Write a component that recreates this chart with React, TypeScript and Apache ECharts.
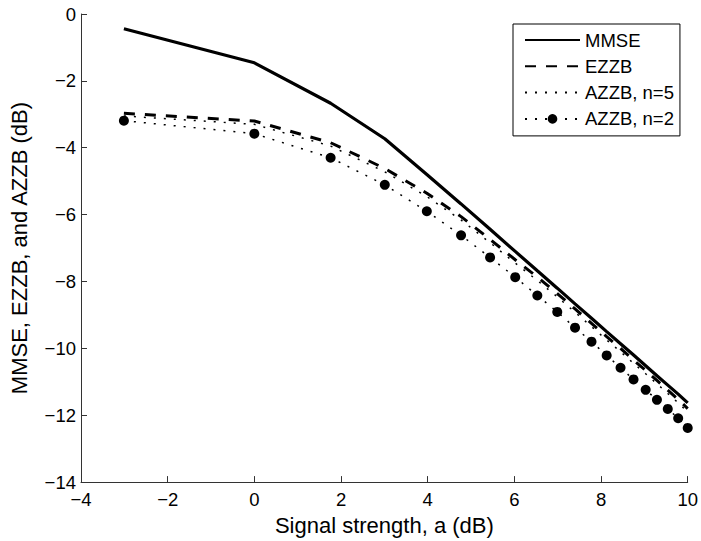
import React, { useEffect, useRef } from "react";
import * as echarts from "echarts";

const xValues = [-3.01, 0, 1.76, 3.01, 3.98, 4.77, 5.44, 6.02, 6.53, 6.99, 7.4, 7.78, 8.13, 8.45, 8.75, 9.03, 9.29, 9.54, 9.78, 10];
const mmse = [-0.44, -1.46, -2.67, -3.73, -4.8, -5.68, -6.44, -7.1, -7.68, -8.2, -8.67, -9.1, -9.5, -9.86, -10.2, -10.52, -10.82, -11.1, -11.37, -11.63];
const ezzb = [-2.97, -3.2, -3.85, -4.62, -5.36, -6.06, -6.74, -7.35, -7.87, -8.36, -8.82, -9.25, -9.65, -10.0, -10.35, -10.66, -10.96, -11.25, -11.53, -11.8];
const azzb5 = [-3.05, -3.3, -3.95, -4.72, -5.46, -6.16, -6.84, -7.45, -7.97, -8.46, -8.92, -9.35, -9.75, -10.1, -10.45, -10.76, -11.06, -11.35, -11.63, -11.9];
const azzb2 = [-3.19, -3.58, -4.3, -5.11, -5.9, -6.62, -7.28, -7.87, -8.42, -8.91, -9.38, -9.8, -10.21, -10.58, -10.93, -11.24, -11.54, -11.81, -12.09, -12.38];
const seriesNames = ["MMSE", "EZZB", "AZZB, n=5", "AZZB, n=2"];
const xAxisTitle = "Signal strength, a (dB)";
const yAxisTitle = "MMSE, EZZB, and AZZB (dB)";

const FONT = "Liberation Sans, Arial, Helvetica, sans-serif";
const pair = (ys: number[]) => xValues.map((x, i) => [x, ys[i]]);
const fmt = (v: number) => String(v).replace("-", "\u2212");

export default function App() {
  const ref = useRef<HTMLDivElement>(null);
  useEffect(() => {
    if (!ref.current) return;
    const chart = echarts.init(ref.current, null, { renderer: "svg" });
    const axisCommon = {
      axisLine: { show: true, onZero: false, lineStyle: { color: "#333", width: 1 } },
      axisTick: { show: true, inside: true, length: 6, lineStyle: { color: "#333" } },
      splitLine: { show: false },
      nameTextStyle: { fontFamily: FONT, fontSize: 22, color: "#000" },
    };
    chart.setOption({
      animation: false,
      backgroundColor: "#fff",
      grid: { left: 81, right: 12, top: 14, bottom: 53 },
      legend: {
        data: seriesNames.map((n, i) =>
          i < 3 ? { name: n, itemStyle: { opacity: 0 } } : { name: n }
        ),
        orient: "vertical",
        left: 513,
        top: 24,
        itemWidth: 55,
        itemHeight: 12,
        itemGap: 6.3,
        padding: [6, 6, 7, 11],
        borderColor: "#000",
        borderWidth: 1,
        backgroundColor: "#fff",
        textStyle: { fontFamily: FONT, fontSize: 18.5, color: "#000", lineHeight: 20 },
      },
      xAxis: {
        type: "value",
        min: -4,
        max: 10,
        interval: 2,
        name: xAxisTitle,
        nameLocation: "middle",
        nameGap: 28,
        axisLabel: { formatter: fmt, fontFamily: FONT, fontSize: 18.5, color: "#000", margin: 8 },
        ...axisCommon,
      },
      yAxis: {
        type: "value",
        min: -14,
        max: 0,
        interval: 2,
        name: yAxisTitle,
        nameLocation: "middle",
        nameRotate: 90,
        nameGap: 51,
        axisLabel: { formatter: fmt, fontFamily: FONT, fontSize: 18.5, color: "#000", margin: 5 },
        ...axisCommon,
      },
      series: [
        {
          name: seriesNames[0],
          type: "line",
          data: pair(mmse),
          symbol: "none",
          lineStyle: { color: "#000", width: 3.2, type: "solid" },
          itemStyle: { color: "#000" },
        },
        {
          name: seriesNames[1],
          type: "line",
          data: pair(ezzb),
          symbol: "none",
          lineStyle: { color: "#000", width: 3, type: [11, 10] },
          itemStyle: { color: "#000" },
        },
        {
          name: seriesNames[2],
          type: "line",
          data: pair(azzb5),
          symbol: "none",
          lineStyle: { color: "#000", width: 1.5, type: [2, 8] },
          itemStyle: { color: "#000" },
        },
        {
          name: seriesNames[3],
          type: "line",
          data: pair(azzb2),
          symbol: "circle",
          symbolSize: 10,
          showSymbol: true,
          lineStyle: { color: "#000", width: 1.5, type: [2, 8] },
          itemStyle: { color: "#000" },
        },
      ],
    });
    return () => chart.dispose();
  }, []);
  return <div ref={ref} style={{ position: "fixed", left: 0, top: 0, width: 701, height: 541, background: "#fff" }} />;
}
